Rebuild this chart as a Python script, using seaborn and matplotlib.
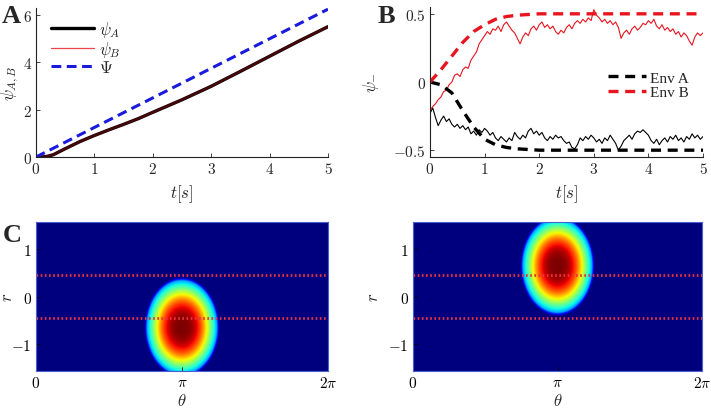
import numpy as np
import matplotlib
matplotlib.use("Agg")
import matplotlib.pyplot as plt
import seaborn as sns

# panel A: phase curves
t_a = [0, 0.1, 0.2, 0.3, 0.5, 0.75, 1, 1.25, 1.5, 1.75, 2, 2.5, 3, 3.5, 4, 4.5, 5]
psi_a = [0, 0.0, 0.03, 0.1, 0.35, 0.65, 0.91, 1.15, 1.38, 1.62, 1.89, 2.42, 2.99, 3.62, 4.26, 4.9, 5.51]
psi_b = [0, 0.0, 0.03, 0.1, 0.35, 0.65, 0.91, 1.15, 1.38, 1.62, 1.89, 2.42, 2.99, 3.62, 4.26, 4.9, 5.51]
t_big = [0, 5]
psi_big = [0, 6.25]

# panel B: noisy traces (t step 0.05) and environment curves
t_b = [round(0.05 * i, 2) for i in range(101)]
trace_red = [-0.21, -0.18, -0.16, -0.13, -0.11, -0.07, -0.06, -0.02, 0.00, 0.05,
             0.06, 0.04, 0.09, 0.11, 0.10, 0.16, 0.19, 0.22, 0.28, 0.31,
             0.34, 0.37, 0.35, 0.39, 0.38, 0.41, 0.37, 0.42, 0.44, 0.41,
             0.38, 0.36, 0.32, 0.28, 0.33, 0.36, 0.34, 0.39, 0.41, 0.38,
             0.42, 0.44, 0.40, 0.42, 0.39, 0.41, 0.37, 0.35, 0.38, 0.36,
             0.40, 0.42, 0.39, 0.43, 0.45, 0.43, 0.46, 0.44, 0.47, 0.45,
             0.53, 0.49, 0.47, 0.44, 0.46, 0.43, 0.45, 0.42, 0.44, 0.40,
             0.32, 0.36, 0.38, 0.35, 0.39, 0.41, 0.38, 0.40, 0.43, 0.42,
             0.45, 0.43, 0.46, 0.41, 0.39, 0.42, 0.38, 0.40, 0.37, 0.39,
             0.35, 0.37, 0.33, 0.36, 0.34, 0.30, 0.27, 0.33, 0.36, 0.34,
             0.36]
trace_black = [-0.23, -0.19, -0.26, -0.32, -0.28, -0.25, -0.29, -0.27, -0.31, -0.33,
               -0.31, -0.34, -0.32, -0.35, -0.33, -0.38, -0.36, -0.39, -0.35, -0.37,
               -0.34, -0.36, -0.39, -0.37, -0.41, -0.43, -0.40, -0.42, -0.44, -0.41,
               -0.43, -0.37, -0.40, -0.42, -0.39, -0.41, -0.36, -0.34, -0.38, -0.36,
               -0.39, -0.37, -0.41, -0.43, -0.40, -0.42, -0.39, -0.41, -0.40, -0.43,
               -0.45, -0.44, -0.48, -0.49, -0.46, -0.41, -0.43, -0.40, -0.42, -0.39,
               -0.41, -0.44, -0.42, -0.45, -0.41, -0.43, -0.39, -0.42, -0.45, -0.50,
               -0.47, -0.43, -0.41, -0.39, -0.42, -0.38, -0.36, -0.37, -0.35, -0.37,
               -0.39, -0.43, -0.45, -0.42, -0.46, -0.43, -0.41, -0.44, -0.40, -0.42,
               -0.39, -0.43, -0.41, -0.44, -0.40, -0.42, -0.38, -0.41, -0.39, -0.42,
               -0.40]
t_env = [0, 0.2, 0.4, 0.6, 0.8, 1.0, 1.2, 1.4, 1.6, 1.8, 2.0, 2.5, 3, 4, 5]
env_a = [0, -0.02, -0.08, -0.21, -0.33, -0.42, -0.46, -0.48, -0.49, -0.495, -0.5, -0.5, -0.5, -0.5, -0.5]
env_b = [0, 0.09, 0.19, 0.29, 0.37, 0.42, 0.46, 0.48, 0.49, 0.495, 0.5, 0.5, 0.5, 0.5, 0.5]

# panel C: bump parameters (centre theta, centre r) and the band lines
bump_theta = [np.pi, np.pi]
bump_r = [-0.65, 0.65]
bump_half_w = 0.81
bump_half_h = 1.06
band_r = [-0.45, 0.45]

sns.set_theme(style="ticks")
plt.rcParams["font.family"] = ["DejaVu Serif"]
plt.rcParams["mathtext.fontset"] = "cm"
plt.rcParams["xtick.direction"] = "in"
plt.rcParams["ytick.direction"] = "in"

W, H = 711, 410
fig = plt.figure(figsize=(7.11, 4.10), dpi=100)
ax_a = fig.add_axes([36 / W, (H - 158) / H, 292 / W, 149 / H])
ax_b = fig.add_axes([430 / W, (H - 158) / H, 273 / W, 150 / H])
ax_c1 = fig.add_axes([36 / W, (H - 372) / H, 292 / W, 149 / H])
ax_c2 = fig.add_axes([413 / W, (H - 372) / H, 289 / W, 149 / H])

blue = "#1a1adc"
red = "#e8141e"

# ---- A
sns.lineplot(x=t_a, y=psi_a, ax=ax_a, color="black", lw=2.4, label=r"$\psi_A$")
sns.lineplot(x=t_a, y=psi_b, ax=ax_a, color=red, lw=1.8, alpha=0.3, label=r"$\psi_B$")
sns.lineplot(x=t_big, y=psi_big, ax=ax_a, color=blue, lw=2.2,
             linestyle=(0, (3.2, 1.8)), label=r"$\Psi$")
ax_a.set_xlim(0, 5)
ax_a.set_ylim(0, 6.3)
ax_a.set_xticks(range(6), [f"${v}$" for v in range(6)])
ax_a.set_yticks([0, 2, 4, 6], ["$0$", "$2$", "$4$", "$6$"])
ax_a.set_xlabel(r"$t[s]$", fontsize=12)
ax_a.set_ylabel(r"$\psi_{A,B}$", fontsize=12)
ax_a.xaxis.set_label_coords(0.5, -0.17)
ax_a.yaxis.set_label_coords(-0.05, 0.5)
leg_a = ax_a.legend(loc="upper left", bbox_to_anchor=(0.0, 1.03), frameon=False, fontsize=12,
                    handlelength=2.6, handletextpad=0.3, labelspacing=0.02)
leg_a.legend_handles[1].set_alpha(0.8)
leg_a.legend_handles[1].set_linewidth(0.9)

# ---- B
sns.lineplot(x=t_b, y=trace_black, ax=ax_b, color="black", lw=0.8)
sns.lineplot(x=t_b, y=trace_red, ax=ax_b, color=red, lw=0.8)
sns.lineplot(x=t_env, y=env_a, ax=ax_b, color="black", lw=2.4,
             linestyle=(0, (3.0, 2.0)), label="Env A")
sns.lineplot(x=t_env, y=env_b, ax=ax_b, color=red, lw=2.4,
             linestyle=(0, (3.0, 2.0)), label="Env B")
ax_b.set_xlim(0, 5)
ax_b.set_ylim(-0.55, 0.55)
ax_b.set_xticks(range(6), [f"${v}$" for v in range(6)])
ax_b.set_yticks([-0.5, 0, 0.5], ["$-0.5$", "$0$", "$0.5$"])
ax_b.set_xlabel(r"$t[s]$", fontsize=12)
ax_b.set_ylabel(r"$\psi_{-}$", fontsize=12)
ax_b.xaxis.set_label_coords(0.5, -0.17)
ax_b.yaxis.set_label_coords(-0.18, 0.5)
leg = ax_b.legend(loc="upper left", bbox_to_anchor=(0.6, 0.665), frameon=False,
                  fontsize=11, handlelength=2.5, handletextpad=0.3, labelspacing=0.05)
for txt in leg.get_texts():
    txt.set_family("Liberation Serif")

for ax in (ax_a, ax_b):
    sns.despine(ax=ax)
    ax.tick_params(length=3, width=0.6, labelsize=11, pad=3)
    for s in ("left", "bottom"):
        ax.spines[s].set_linewidth(0.8)
        ax.spines[s].set_color("#222222")

# ---- C
theta = np.linspace(0, 2 * np.pi, 700)
rr = np.linspace(-np.pi / 2, np.pi / 2, 350)
TH, RR = np.meshgrid(theta, rr)
for ax, tc, rc in zip((ax_c1, ax_c2), bump_theta, bump_r):
    rho = np.sqrt(((TH - tc) / bump_half_w) ** 2 + ((RR - rc) / bump_half_h) ** 2)
    field = np.exp(-1.55 * rho ** 3) * np.clip((1 - rho) / 0.07, 0, 1)
    ax.imshow(field, cmap="jet", vmin=0, vmax=1, origin="lower", aspect="auto",
              extent=[0, 2 * np.pi, -np.pi / 2, np.pi / 2], interpolation="bilinear")
    for b in band_r:
        ax.axhline(b, color="#e8323c", lw=2.0, linestyle=(0, (0.6, 0.9)))
    ax.set_xlim(0, 2 * np.pi)
    ax.set_ylim(-np.pi / 2, np.pi / 2)
    ax.set_xticks([0, np.pi, 2 * np.pi], ["$0$", r"$\pi$", r"$2\pi$"])
    ax.set_yticks([-1, 0, 1], ["$-1$", "$0$", "$1$"])
    ax.tick_params(length=3, width=0.6, labelsize=11, pad=3, colors="black")
    ax.set_xlabel(r"$\theta$", fontsize=12)
    ax.set_ylabel(r"$r$", fontsize=12)
    ax.xaxis.set_label_coords(0.5, -0.14)
    for s in ax.spines.values():
        s.set_linewidth(0.8)
        s.set_color("#4a5fd0")
ax_c1.yaxis.set_label_coords(-0.07, 0.5)
ax_c2.yaxis.set_label_coords(-0.107, 0.5)

# panel letters
for x, y, s in ((2, 23, "A"), (378, 23, "B"), (3, 242, "C")):
    fig.text(x / W, 1 - y / H, s, fontsize=19, fontweight="bold",
             family="Liberation Serif", ha="left", va="baseline")

fig.savefig("out.png", dpi=100)
